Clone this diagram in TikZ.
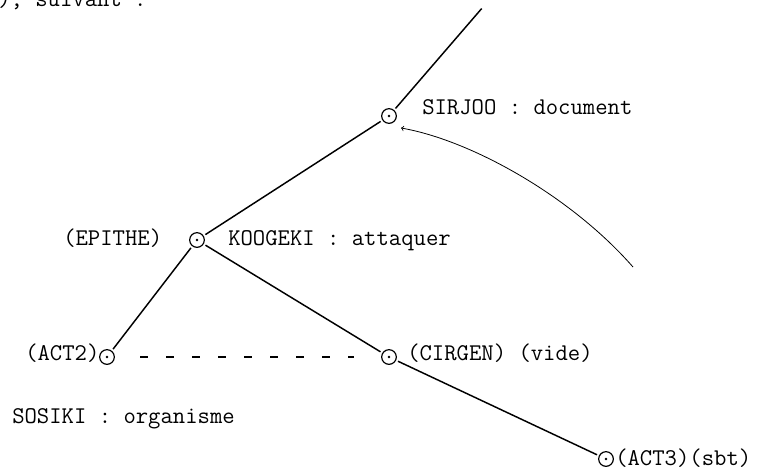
\documentclass[tikz,border=0pt]{standalone}
\usepackage{tikz}
\usetikzlibrary{positioning,calc}

\tikzset{
  pivot/.style={draw, circle, line width=0.9pt, minimum size=11pt, inner sep=0pt,
    path picture={\fill (path picture bounding box.center) circle (1.1pt);}},
  word/.style={anchor=base west, inner sep=0pt, font=\ttfamily\fontsize{18}{20}\selectfont},
  branch/.style={line width=1.1pt, shorten <=1.5pt, shorten >=1.5pt}
}

\begin{document}
\begin{tikzpicture}[x=0.75pt, y=-0.75pt]
    \clip (0,0) rectangle (766,469);

    % tree nodes
    \coordinate (root) at (483,7);
    \node (sirjoo) [pivot] at (389,116) {};
    \node (koogeki) [pivot] at (197,240) {};
    \node (act2) [pivot] at (107,357) {};
    \node (cirgen) [pivot] at (389,357) {};
    \node (act3) [pivot] at (606,459) {};

    % labels
    \node (top) [word] at (-2,6) {), suivant :};
    \node (lsirjoo) [word] at (422,114) {SIRJOO : document};
    \node (lepithe) [word] at (63,245) {(EPITHE)};
    \node (lkoogeki) [word] at (228,245) {KOOGEKI : attaquer};
    \node (lact2) [word] at (25,360) {(ACT2)};
    \node (lcirgen) [word] at (407,360) {(CIRGEN) (vide)};
    \node (lsosiki) [word] at (12,423) {SOSIKI : organisme};
    \node (lact3) [word] at (615,465) {(ACT3)(sbt)};

    % branches
    \draw[branch] (root) -- (sirjoo);
    \draw[branch] (sirjoo) -- (koogeki);
    \draw[branch] (koogeki) -- (act2);
    \draw[branch] (koogeki) -- (cirgen);
    \draw[branch] (cirgen) -- (act3);
    \draw[line width=1.1pt, dash pattern=on 6pt off 13.5pt, shorten <=19pt, shorten >=20pt] (act2) -- (cirgen);

    % hand-drawn arrow
    \coordinate (hook) at (633,267);
    \coordinate (tip) at (401,128);
    \draw[->, line width=0.6pt] (hook) .. controls (570,195) and (470,140) .. (tip);
\end{tikzpicture}
\end{document}
